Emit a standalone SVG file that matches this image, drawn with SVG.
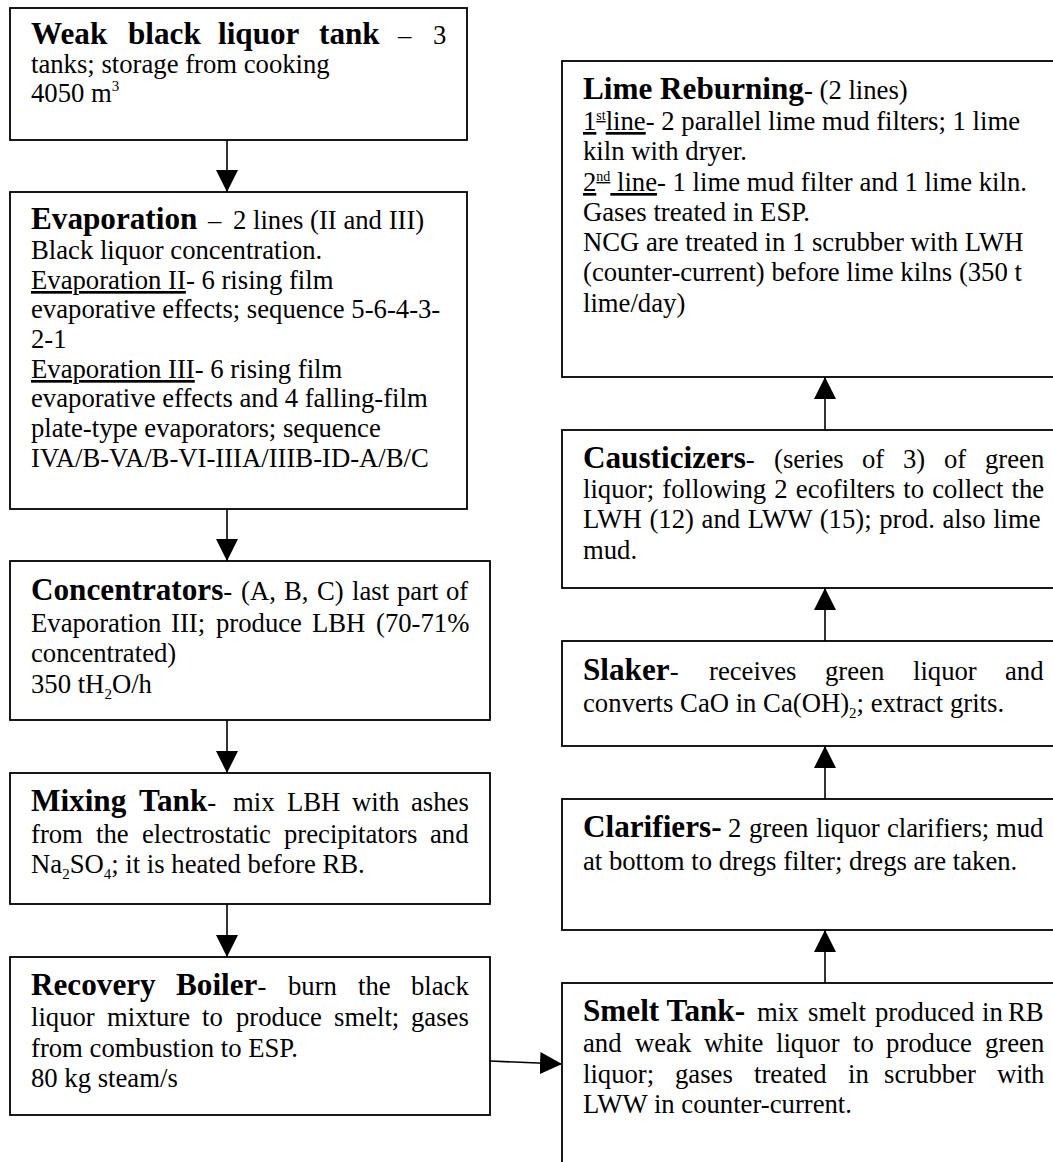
<svg xmlns="http://www.w3.org/2000/svg" width="1053" height="1162" viewBox="0 0 1053 1162">
<style>
.box{fill:#fff;stroke:#000;stroke-width:1.8}
.t{font-family:"Liberation Serif","Times New Roman",serif;font-size:26.7px;fill:#000}
.b{font-weight:bold;font-size:31.2px}
.u{text-decoration:underline}
.sm{font-size:15px}
.sup{font-size:14px;baseline-shift:10px}
.conn line{stroke:#000;stroke-width:1.6;fill:none}
</style>
<defs>
<marker id="ah" markerUnits="userSpaceOnUse" markerWidth="22" markerHeight="22" viewBox="0 0 20 20" refX="20" refY="10" orient="auto">
<path d="M0,0 L20,10 L0,20 z" fill="#000"/>
</marker>
</defs>
<rect width="1053" height="1162" fill="#fff"/>

<g id="weak-black-liquor-tank">
<rect class="box" x="10" y="8" width="457" height="132"/>
<text class="t" y="44"><tspan x="31" class="b">Weak</tspan><tspan x="128" class="b">black</tspan><tspan x="218" class="b">liquor</tspan><tspan x="319" class="b">tank</tspan><tspan x="398">–</tspan><tspan x="433">3</tspan></text>
<text class="t" x="31" y="73">tanks; storage from cooking</text>
<text class="t" x="31" y="102">4050 m<tspan class="sm" dy="-11">3</tspan></text>
</g>

<g id="evaporation">
<rect class="box" x="10" y="192" width="457" height="317"/>
<text class="t" y="229"><tspan x="31" class="b">Evaporation</tspan><tspan x="208">–</tspan><tspan x="233">2 lines (II and III)</tspan></text>
<text class="t" x="31" y="259">Black liquor concentration.</text>
<text class="t" x="31" y="289"><tspan class="u">Evaporation II</tspan>- 6 rising film</text>
<text class="t" x="31" y="318">evaporative effects; sequence 5-6-4-3-</text>
<text class="t" x="31" y="348">2-1</text>
<text class="t" x="31" y="378"><tspan class="u">Evaporation III</tspan>- 6 rising film</text>
<text class="t" x="31" y="407">evaporative effects and 4 falling-film</text>
<text class="t" x="31" y="437">plate-type evaporators; sequence</text>
<text class="t" x="31" y="467">IVA/B-VA/B-VI-IIIA/IIIB-ID-A/B/C</text>
</g>

<g id="concentrators">
<rect class="box" x="10" y="561" width="480" height="159"/>
<text class="t" y="600"><tspan x="31" class="b">Concentrators</tspan><tspan>-</tspan><tspan x="241">(A,</tspan><tspan x="284">B,</tspan><tspan x="317">C)</tspan><tspan x="352">last</tspan><tspan x="397">part</tspan><tspan x="446">of</tspan></text>
<text class="t" y="632"><tspan x="31">Evaporation</tspan><tspan x="171">III;</tspan><tspan x="216">produce</tspan><tspan x="312">LBH</tspan><tspan x="376">(70-71%</tspan></text>
<text class="t" x="31" y="662">concentrated)</text>
<text class="t" x="31" y="693">350 tH<tspan class="sm" dy="6">2</tspan><tspan dy="-6">O/h</tspan></text>
</g>

<g id="mixing-tank">
<rect class="box" x="10" y="773" width="480" height="131"/>
<text class="t" y="811"><tspan x="31" class="b">Mixing</tspan><tspan x="139" class="b">Tank</tspan><tspan>-</tspan><tspan x="233">mix</tspan><tspan x="287">LBH</tspan><tspan x="352">with</tspan><tspan x="411">ashes</tspan></text>
<text class="t" y="843"><tspan x="31">from</tspan><tspan x="96">the</tspan><tspan x="142">electrostatic</tspan><tspan x="284">precipitators</tspan><tspan x="430">and</tspan></text>
<text class="t" x="31" y="873">Na<tspan class="sm" dy="6">2</tspan><tspan dy="-6">SO</tspan><tspan class="sm" dy="6">4</tspan><tspan dy="-6">; it is heated before RB.</tspan></text>
</g>

<g id="recovery-boiler">
<rect class="box" x="10" y="957" width="480" height="158"/>
<text class="t" y="995"><tspan x="31" class="b">Recovery</tspan><tspan x="176" class="b">Boiler</tspan><tspan>-</tspan><tspan x="288">burn</tspan><tspan x="358">the</tspan><tspan x="411">black</tspan></text>
<text class="t" y="1026"><tspan x="31">liquor</tspan><tspan x="107">mixture</tspan><tspan x="202">to</tspan><tspan x="236">produce</tspan><tspan x="334">smelt;</tspan><tspan x="411">gases</tspan></text>
<text class="t" x="31" y="1057">from combustion to ESP.</text>
<text class="t" x="31" y="1087">80 kg steam/s</text>
</g>

<g id="lime-reburning">
<rect class="box" x="562" y="61" width="520" height="316"/>
<text class="t" x="583" y="99"><tspan class="b">Lime Reburning</tspan>- (2 lines)</text>
<text class="t" x="583" y="130"><tspan class="u">1<tspan class="sup">st</tspan>line</tspan>- 2 parallel lime mud filters; 1 lime</text>
<text class="t" x="583" y="160">kiln with dryer.</text>
<text class="t" x="583" y="191"><tspan class="u">2<tspan class="sup">nd</tspan> line</tspan>- 1 lime mud filter and 1 lime kiln.</text>
<text class="t" x="583" y="221">Gases treated in ESP.</text>
<text class="t" x="583" y="251">NCG are treated in 1 scrubber with LWH</text>
<text class="t" x="583" y="281">(counter-current) before lime kilns (350 t</text>
<text class="t" x="583" y="312">lime/day)</text>
</g>

<g id="causticizers">
<rect class="box" x="562" y="430" width="520" height="158"/>
<text class="t" y="468"><tspan x="583" class="b">Causticizers</tspan><tspan>-</tspan><tspan x="774">(series</tspan><tspan x="862">of</tspan><tspan x="903">3)</tspan><tspan x="944">of</tspan><tspan x="985">green</tspan></text>
<text class="t" x="583" y="498" style="word-spacing:1.5px">liquor; following 2 ecofilters to collect the</text>
<text class="t" x="583" y="528" style="word-spacing:1px">LWH (12) and LWW (15); prod. also lime</text>
<text class="t" x="583" y="559">mud.</text>
</g>

<g id="slaker">
<rect class="box" x="562" y="641" width="520" height="105"/>
<text class="t" y="680"><tspan x="583" class="b">Slaker</tspan><tspan>-</tspan><tspan x="709">receives</tspan><tspan x="825">green</tspan><tspan x="913">liquor</tspan><tspan x="1005">and</tspan></text>
<text class="t" x="583" y="712">converts CaO in Ca(OH)<tspan class="sm" dy="6">2</tspan><tspan dy="-6">; extract grits.</tspan></text>
</g>

<g id="clarifiers">
<rect class="box" x="562" y="799" width="520" height="131"/>
<text class="t" y="837"><tspan x="583" class="b">Clarifiers-</tspan><tspan x="728">2</tspan><tspan x="749">green</tspan><tspan x="816">liquor</tspan><tspan x="887">clarifiers;</tspan><tspan x="996">mud</tspan></text>
<text class="t" x="583" y="870">at bottom to dregs filter; dregs are taken.</text>
</g>

<g id="smelt-tank">
<rect class="box" x="562" y="983" width="520" height="220"/>
<text class="t" y="1021"><tspan x="583" class="b">Smelt Tank-</tspan><tspan x="757">mix</tspan><tspan x="808">smelt</tspan><tspan x="875">produced</tspan><tspan x="982">in</tspan><tspan x="1008">RB</tspan></text>
<text class="t" y="1052"><tspan x="583">and</tspan><tspan x="635">weak</tspan><tspan x="704">white</tspan><tspan x="776">liquor</tspan><tspan x="853">to</tspan><tspan x="886">produce</tspan><tspan x="985">green</tspan></text>
<text class="t" y="1083"><tspan x="583">liquor;</tspan><tspan x="675">gases</tspan><tspan x="754">treated</tspan><tspan x="848">in</tspan><tspan x="884">scrubber</tspan><tspan x="997">with</tspan></text>
<text class="t" x="583" y="1113">LWW in counter-current.</text>
</g>

<g id="connectors" class="conn">
<line x1="227" y1="140" x2="227" y2="192" marker-end="url(#ah)"/>
<line x1="227" y1="509" x2="227" y2="561" marker-end="url(#ah)"/>
<line x1="227" y1="720" x2="227" y2="773" marker-end="url(#ah)"/>
<line x1="227" y1="904" x2="227" y2="957" marker-end="url(#ah)"/>
<line x1="490" y1="1061" x2="562" y2="1064" marker-end="url(#ah)"/>
<line x1="825" y1="983" x2="825" y2="930" marker-end="url(#ah)"/>
<line x1="825" y1="799" x2="825" y2="746" marker-end="url(#ah)"/>
<line x1="825" y1="641" x2="825" y2="588" marker-end="url(#ah)"/>
<line x1="825" y1="430" x2="825" y2="377" marker-end="url(#ah)"/>
</g>
</svg>
